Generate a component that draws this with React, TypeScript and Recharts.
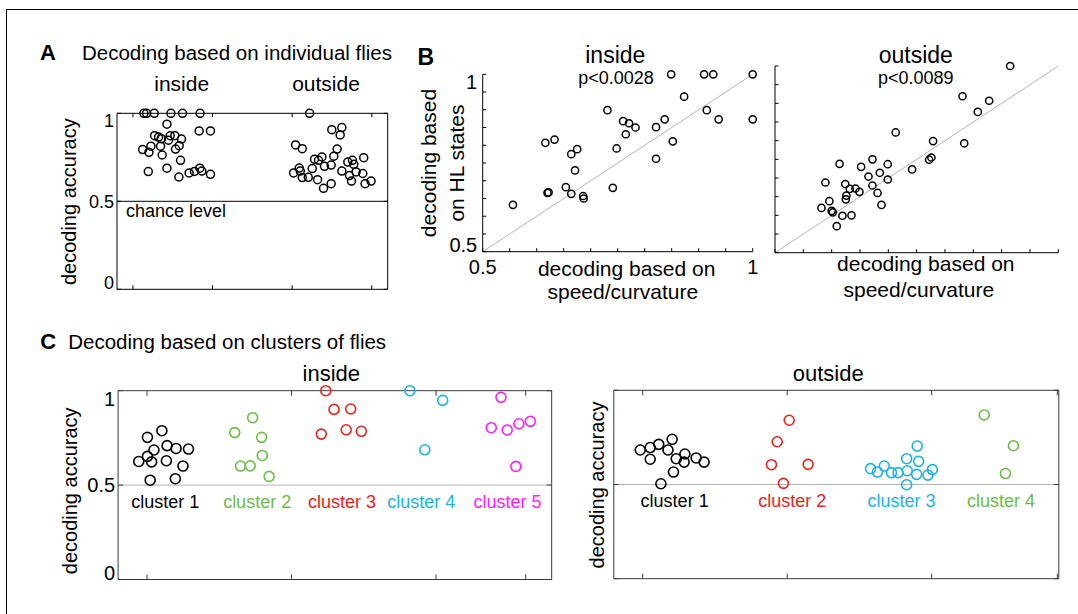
import React from 'react';
import { ScatterChart, Scatter, XAxis, YAxis, ReferenceLine } from 'recharts';

const W = 1078;
const H = 614;
const FONT = '"Liberation Sans", Arial, Helvetica, sans-serif';

// ---------- Panel A: decoding based on individual flies ([jitter x, accuracy]) ----------
const aInside: [number, number][] = [
  [1.138, 1.0], [1.172, 1.0], [1.268, 1.0], [1.477, 1.0], [1.623, 1.0], [1.844, 1.0],
  [1.427, 0.938], [1.832, 0.9], [1.974, 0.9],
  [1.272, 0.873], [1.322, 0.865], [1.356, 0.856], [1.468, 0.873], [1.527, 0.873], [1.61, 0.854], [1.447, 0.847],
  [1.226, 0.813], [1.347, 0.813], [1.581, 0.816], [1.535, 0.797], [1.122, 0.794], [1.201, 0.778], [1.368, 0.763], [1.598, 0.733],
  [1.193, 0.669], [1.427, 0.688], [1.577, 0.638], [1.706, 0.661], [1.773, 0.67], [1.84, 0.688], [1.865, 0.672], [1.974, 0.653],
];
const aOutside: [number, number][] = [
  [3.219, 1.0], [3.498, 0.907], [3.624, 0.919], [3.603, 0.877], [3.043, 0.82], [3.127, 0.799], [3.565, 0.797],
  [3.281, 0.739], [3.331, 0.733], [3.373, 0.752], [3.523, 0.756], [3.406, 0.699], [3.49, 0.706], [3.699, 0.723],
  [3.757, 0.733], [3.774, 0.71], [3.899, 0.748], [3.018, 0.661], [3.089, 0.689], [3.102, 0.672], [3.127, 0.635],
  [3.202, 0.636], [3.252, 0.686], [3.319, 0.623], [3.394, 0.574], [3.49, 0.6], [3.624, 0.672], [3.72, 0.646],
  [3.745, 0.615], [3.803, 0.667], [3.887, 0.658], [3.916, 0.6], [3.991, 0.615],
];
const aXDomain: [number, number] = [0.8, 4.2];
const aXTicks = [1, 2, 3, 4];
const aYTicks = [0, 0.5, 1];
const aYLabels = ['0', '0.5', '1'];

// ---------- Panel B: HL states vs speed/curvature ([speed/curvature, HL states]) ----------
const bInside: [number, number][] = [
  [0.556, 0.632], [0.616, 0.807], [0.633, 0.816], [0.62, 0.666], [0.622, 0.667], [0.654, 0.682], [0.664, 0.663],
  [0.664, 0.775], [0.675, 0.789], [0.671, 0.729], [0.686, 0.657], [0.687, 0.65], [0.731, 0.899], [0.741, 0.68],
  [0.748, 0.791], [0.76, 0.868], [0.765, 0.831], [0.771, 0.862], [0.783, 0.85], [0.821, 0.851], [0.821, 0.762],
  [0.849, 1.0], [0.91, 1.0], [0.927, 1.0], [1.0, 1.0], [0.873, 0.937], [0.915, 0.899], [0.837, 0.873],
  [0.937, 0.873], [1.0, 0.873], [0.852, 0.811],
];
const bOutside: [number, number][] = [
  [0.915, 1.0], [0.831, 0.919], [0.878, 0.907], [0.858, 0.877], [0.713, 0.822], [0.779, 0.799], [0.834, 0.793],
  [0.772, 0.749], [0.776, 0.755], [0.742, 0.723], [0.614, 0.738], [0.652, 0.73], [0.672, 0.75], [0.699, 0.737],
  [0.665, 0.704], [0.685, 0.714], [0.699, 0.696], [0.589, 0.688], [0.624, 0.684], [0.632, 0.671], [0.642, 0.672],
  [0.649, 0.663], [0.672, 0.68], [0.681, 0.66], [0.626, 0.653], [0.625, 0.643], [0.596, 0.638], [0.582, 0.62],
  [0.6, 0.612], [0.602, 0.608], [0.619, 0.599], [0.635, 0.6], [0.609, 0.571], [0.688, 0.628],
];
const bTicks = [0.5, 0.55, 0.6, 0.65, 0.7, 0.75, 0.8, 0.85, 0.9, 0.95, 1];
const bTickLabels: Record<string, string> = { '0.5': '0.5', '1': '1' };
const bDiagonal = [{ x: 0.5, y: 0.5 }, { x: 1, y: 1 }];

// ---------- Panel C: decoding based on clusters of flies ----------
const cIn1: [number, number][] = [
  [0.943, 0.625], [1.003, 0.753], [1.003, 0.652], [1.032, 0.623], [1.048, 0.686], [1.103, 0.788], [1.134, 0.629],
  [1.139, 0.709], [1.201, 0.694], [1.249, 0.601], [1.287, 0.691], [1.022, 0.526], [1.196, 0.534],
];
const cIn2: [number, number][] = [
  [1.607, 0.778], [1.731, 0.857], [1.793, 0.753], [1.798, 0.657], [1.647, 0.601], [1.714, 0.602], [1.845, 0.546],
];
const cIn3: [number, number][] = [[2.237, 1.0], [2.294, 0.901], [2.409, 0.903], [2.206, 0.77], [2.378, 0.793], [2.483, 0.785]];
const cIn4: [number, number][] = [[2.819, 1.0], [3.046, 0.949], [2.922, 0.687]];
const cIn5: [number, number][] = [[3.449, 0.965], [3.382, 0.804], [3.492, 0.792], [3.573, 0.825], [3.652, 0.838], [3.552, 0.599]];
const cInClusters = [cIn1, cIn2, cIn3, cIn4, cIn5];
const cInNames = ['cluster 1', 'cluster 2', 'cluster 3', 'cluster 4', 'cluster 5'];
const cInNameX = [1.127, 1.762, 2.349, 2.898, 3.494];
const cInColors = ['#000000', '#6cbd45', '#e8231c', '#1bb4e0', '#ff1cff'];
const cInDomain: [number, number] = [0.8, 3.8];
const cInXTicks = [1, 2, 3, 3.62];

const cOut1: [number, number][] = [
  [0.983, 0.683], [1.052, 0.696], [1.111, 0.713], [1.204, 0.74], [1.175, 0.683], [1.052, 0.634], [1.232, 0.637],
  [1.292, 0.662], [1.287, 0.619], [1.37, 0.641], [1.425, 0.619], [1.213, 0.566], [1.126, 0.504],
];
const cOut2: [number, number][] = [[2.014, 0.841], [1.931, 0.727], [1.891, 0.605], [2.145, 0.607], [1.974, 0.506]];
const cOut3: [number, number][] = [
  [2.9, 0.704], [2.827, 0.637], [2.91, 0.623], [2.577, 0.584], [2.625, 0.566], [2.672, 0.598], [2.722, 0.563],
  [2.767, 0.563], [2.831, 0.573], [2.896, 0.554], [2.974, 0.55], [3.005, 0.579], [2.827, 0.499],
];
const cOut4: [number, number][] = [[3.364, 0.869], [3.566, 0.706], [3.511, 0.558]];
const cOutClusters = [cOut1, cOut2, cOut3, cOut4];
const cOutNames = ['cluster 1', 'cluster 2', 'cluster 3', 'cluster 4'];
const cOutNameX = [1.221, 2.035, 2.791, 3.48];
const cOutColors = ['#000000', '#e8231c', '#1bb4e0', '#6cbd45'];
const cOutDomain: [number, number] = [0.8, 3.88];
const cOutXTicks = [1, 2, 3, 3.87];
const cYTicks = [0, 0.5, 1];
const cNameY = 0.38;

// ---------- helpers ----------
const toPts = (arr: [number, number][]) => arr.map(([x, y]) => ({ x, y }));

type Rect = { l: number; t: number; r: number; b: number };

// All axes are mirrored (ticks point inward, like MATLAB) so they reserve no space;
// the margins therefore place the plot box exactly.
function Panel({ rect, children }: { rect: Rect; children: React.ReactNode }) {
  return (
    <div style={{ position: 'absolute', left: 0, top: 0, width: W, height: H }}>
      <ScatterChart
        width={W}
        height={H}
        margin={{ left: rect.l, top: rect.t, right: W - rect.r, bottom: H - rect.b }}
      >
        {children}
      </ScatterChart>
    </div>
  );
}

const ring = (r: number, color: string, sw: number) => (p: any) =>
  <circle cx={p.cx} cy={p.cy} r={r} fill="none" stroke={color} strokeWidth={sw} />;

const nameShape = (fs: number) => (p: any) =>
  <text x={p.cx} y={p.cy} textAnchor="middle" fontSize={fs} fontFamily={FONT} fill={p.payload.color}>{p.payload.name}</text>;

type Lab = { fs: number; fmt: (v: number) => string; gap: number; lo?: number; hi?: number };

// Tick renderer for mirrored axes with tickMargin 0: (p.x, p.y) is the inner end of the tick mark.
const tickMark = (side: 'l' | 'r' | 't' | 'b', size: number, color: string, lab?: Lab) => (p: any) => {
  let x1 = p.x, y1 = p.y, x2 = p.x, y2 = p.y;
  if (side === 'l') x1 = p.x - size;
  if (side === 'r') x2 = p.x + size;
  if (side === 'b') y2 = p.y + size;
  if (side === 't') y1 = p.y - size;
  let label: React.ReactNode = null;
  if (lab) {
    const v = p.payload.value;
    const s = lab.fmt(v);
    if (s && side === 'l') {
      let dy = '0.355em';
      if (v === lab.hi) dy = '0.74em';
      else if (v === lab.lo) dy = '0em';
      label = <text x={p.x - size - lab.gap} y={p.y} dy={dy} textAnchor="end" fontSize={lab.fs} fontFamily={FONT} fill="#000">{s}</text>;
    }
    if (s && side === 'b') {
      label = <text x={p.x} y={p.y + size + lab.gap} dy="0.71em" textAnchor="middle" fontSize={lab.fs} fontFamily={FONT} fill="#000">{s}</text>;
    }
  }
  return (
    <g>
      <line x1={x1} y1={y1} x2={x2} y2={y2} stroke={color} strokeWidth={1} />
      {label}
    </g>
  );
};

const T = (props: any) => <text fontFamily={FONT} fill="#000" {...props} />;

const rectA: Rect = { l: 117, t: 113.3, r: 387.7, b: 289.3 };
const rectBi: Rect = { l: 482.7, t: 74.3, r: 752.7, b: 251.7 };
const rectBo: Rect = { l: 775, t: 66, r: 1058.3, b: 252.7 };
const rectCi: Rect = { l: 118.1, t: 390.7, r: 551.7, b: 579.5 };
const rectCo: Rect = { l: 613.8, t: 390.3, r: 1058.8, b: 578.7 };

function BoxAxes({ domain, xTicks, yTicks, color, tick, yLab }: any) {
  return [
    <XAxis key="xb" xAxisId="b" type="number" dataKey="x" domain={domain} ticks={xTicks} interval={0}
      tick={tickMark('b', tick, color)} tickLine={false} mirror tickSize={tick} tickMargin={0} height={1} stroke={color} />,
    <XAxis key="xt" xAxisId="t" orientation="top" type="number" dataKey="x" domain={domain} ticks={xTicks} interval={0}
      tick={tickMark('t', tick, color)} tickLine={false} mirror tickSize={tick} tickMargin={0} height={1} stroke={color} allowDataOverflow />,
    <YAxis key="yl" yAxisId="l" type="number" dataKey="y" domain={[0, 1]} ticks={yTicks} interval={0}
      tick={tickMark('l', tick, color, yLab)} tickLine={false} mirror tickSize={tick} tickMargin={0} width={1} stroke={color} />,
    <YAxis key="yr" yAxisId="r" orientation="right" type="number" dataKey="y" domain={[0, 1]} ticks={yTicks} interval={0}
      tick={tickMark('r', tick, color)} tickLine={false} mirror tickSize={tick} tickMargin={0} width={1} stroke={color} allowDataOverflow />,
  ];
}

export default function App() {
  const bFmt = (v: number) => bTickLabels[String(v)] || '';
  const aFmt = (v: number) => aYLabels[aYTicks.indexOf(v)] || '';
  return (
    <div style={{ position: 'absolute', left: 0, top: 0, width: W, height: H, background: '#fff', overflow: 'hidden' }}>
      {/* Panel A */}
      <Panel rect={rectA}>
        {BoxAxes({ domain: aXDomain, xTicks: aXTicks, yTicks: aYTicks, color: '#000', tick: 4,
          yLab: { fs: 18, fmt: aFmt, gap: 3, lo: 0, hi: 1 } })}
        <ReferenceLine xAxisId="b" yAxisId="l" y={0.5} stroke="#000" strokeWidth={1} />
        <Scatter xAxisId="b" yAxisId="l" data={toPts(aInside)} shape={ring(4, '#000', 1.5)} isAnimationActive={false} />
        <Scatter xAxisId="b" yAxisId="l" data={toPts(aOutside)} shape={ring(4, '#000', 1.5)} isAnimationActive={false} />
      </Panel>

      {/* Panel B inside */}
      <Panel rect={rectBi}>
        <XAxis xAxisId="b" type="number" dataKey="x" domain={[0.5, 1]} ticks={bTicks} interval={0}
          tick={tickMark('b', 3.5, '#000', { fs: 20, fmt: bFmt, gap: 8 })} tickLine={false}
          mirror tickSize={3.5} tickMargin={0} height={1} stroke="#000" />
        <YAxis yAxisId="l" type="number" dataKey="y" domain={[0.5, 1]} ticks={bTicks} interval={0}
          tick={tickMark('l', 3.5, '#000', { fs: 20, fmt: bFmt, gap: 5.5, lo: 0.5, hi: 1 })} tickLine={false}
          mirror tickSize={3.5} tickMargin={0} width={1} stroke="#000" />
        <ReferenceLine xAxisId="b" yAxisId="l" segment={bDiagonal} stroke="#b4b4b4" strokeWidth={1} />
        <Scatter xAxisId="b" yAxisId="l" data={toPts(bInside)} shape={ring(3.6, '#000', 1.5)} isAnimationActive={false} />
      </Panel>

      {/* Panel B outside */}
      <Panel rect={rectBo}>
        <XAxis xAxisId="b" type="number" dataKey="x" domain={[0.5, 1]} ticks={bTicks} interval={0}
          tick={tickMark('b', 3.5, '#000')} tickLine={false} mirror tickSize={3.5} tickMargin={0} height={1} stroke="#000" />
        <YAxis yAxisId="l" type="number" dataKey="y" domain={[0.5, 1]} ticks={bTicks} interval={0}
          tick={tickMark('l', 3.5, '#000')} tickLine={false} mirror tickSize={3.5} tickMargin={0} width={1} stroke="#000" />
        <ReferenceLine xAxisId="b" yAxisId="l" segment={bDiagonal} stroke="#b4b4b4" strokeWidth={1} />
        <Scatter xAxisId="b" yAxisId="l" data={toPts(bOutside)} shape={ring(3.6, '#000', 1.5)} isAnimationActive={false} />
      </Panel>

      {/* Panel C inside */}
      <Panel rect={rectCi}>
        {BoxAxes({ domain: cInDomain, xTicks: cInXTicks, yTicks: cYTicks, color: '#3a3a3a', tick: 5,
          yLab: { fs: 20, fmt: aFmt, gap: 3, lo: 0, hi: 1 } })}
        <ReferenceLine xAxisId="b" yAxisId="l" y={0.5} stroke="#b4b4b4" strokeWidth={1} />
        {cInClusters.map((c, i) => (
          <Scatter key={'ci' + i} xAxisId="b" yAxisId="l" data={toPts(c)} shape={ring(5, cInColors[i], 1.6)} isAnimationActive={false} />
        ))}
        <Scatter xAxisId="b" yAxisId="l" data={cInNames.map((n, i) => ({ x: cInNameX[i], y: cNameY, name: n, color: cInColors[i] }))}
          shape={nameShape(18)} isAnimationActive={false} />
      </Panel>

      {/* Panel C outside */}
      <Panel rect={rectCo}>
        {BoxAxes({ domain: cOutDomain, xTicks: cOutXTicks, yTicks: cYTicks, color: '#3a3a3a', tick: 5 })}
        <ReferenceLine xAxisId="b" yAxisId="l" y={0.5} stroke="#b4b4b4" strokeWidth={1} />
        {cOutClusters.map((c, i) => (
          <Scatter key={'co' + i} xAxisId="b" yAxisId="l" data={toPts(c)} shape={ring(5, cOutColors[i], 1.6)} isAnimationActive={false} />
        ))}
        <Scatter xAxisId="b" yAxisId="l" data={cOutNames.map((n, i) => ({ x: cOutNameX[i], y: cNameY, name: n, color: cOutColors[i] }))}
          shape={nameShape(18)} isAnimationActive={false} />
      </Panel>

      {/* Text overlay */}
      <svg width={W} height={H} style={{ position: 'absolute', left: 0, top: 0, pointerEvents: 'none' }}>
        <line x1={6.5} y1={9.5} x2={W} y2={9.5} stroke="#000" strokeWidth={1} />
        <line x1={6.5} y1={9} x2={6.5} y2={H} stroke="#000" strokeWidth={1} />

        {/* A */}
        <T x={40} y={59.5} fontSize={22} fontWeight="bold">A</T>
        <T x={82} y={59.5} fontSize={20.5}>Decoding based on individual flies</T>
        <T x={181.7} y={91} fontSize={21} textAnchor="middle">inside</T>
        <T x={326} y={91} fontSize={21} textAnchor="middle">outside</T>
        <T x={126} y={217} fontSize={18}>chance level</T>
        <T x={76} y={201.7} fontSize={20} textAnchor="middle" transform="rotate(-90 76 201.7)">decoding accuracy</T>

        {/* B */}
        <T x={417.5} y={65} fontSize={23} fontWeight="bold">B</T>
        <T x={615.3} y={63} fontSize={23} textAnchor="middle">inside</T>
        <T x={616} y={84} fontSize={18} textAnchor="middle">p&lt;0.0028</T>
        <T x={915.8} y={63} fontSize={23} textAnchor="middle">outside</T>
        <T x={915.8} y={84} fontSize={18} textAnchor="middle">p&lt;0.0089</T>
        <T x={435.5} y={163} fontSize={21} textAnchor="middle" transform="rotate(-90 435.5 163)">decoding based</T>
        <T x={464.4} y={163} fontSize={21} textAnchor="middle" transform="rotate(-90 464.4 163)">on HL states</T>
        <T x={626.7} y={276} fontSize={21} textAnchor="middle">decoding based on</T>
        <T x={622.8} y={299} fontSize={21} textAnchor="middle">speed/curvature</T>
        <T x={925.8} y={271} fontSize={21} textAnchor="middle">decoding based on</T>
        <T x={918.8} y={297} fontSize={21} textAnchor="middle">speed/curvature</T>

        {/* C */}
        <T x={40.3} y={349.3} fontSize={22} fontWeight="bold">C</T>
        <T x={68.2} y={349.3} fontSize={20.5}>Decoding based on clusters of flies</T>
        <T x={331.3} y={380.7} fontSize={22} textAnchor="middle">inside</T>
        <T x={828.2} y={380.7} fontSize={22} textAnchor="middle">outside</T>
        <T x={77.5} y={490.8} fontSize={20} textAnchor="middle" transform="rotate(-90 77.5 490.8)">decoding accuracy</T>
        <T x={603.5} y={485} fontSize={20} textAnchor="middle" transform="rotate(-90 603.5 485)">decoding accuracy</T>
      </svg>
    </div>
  );
}
